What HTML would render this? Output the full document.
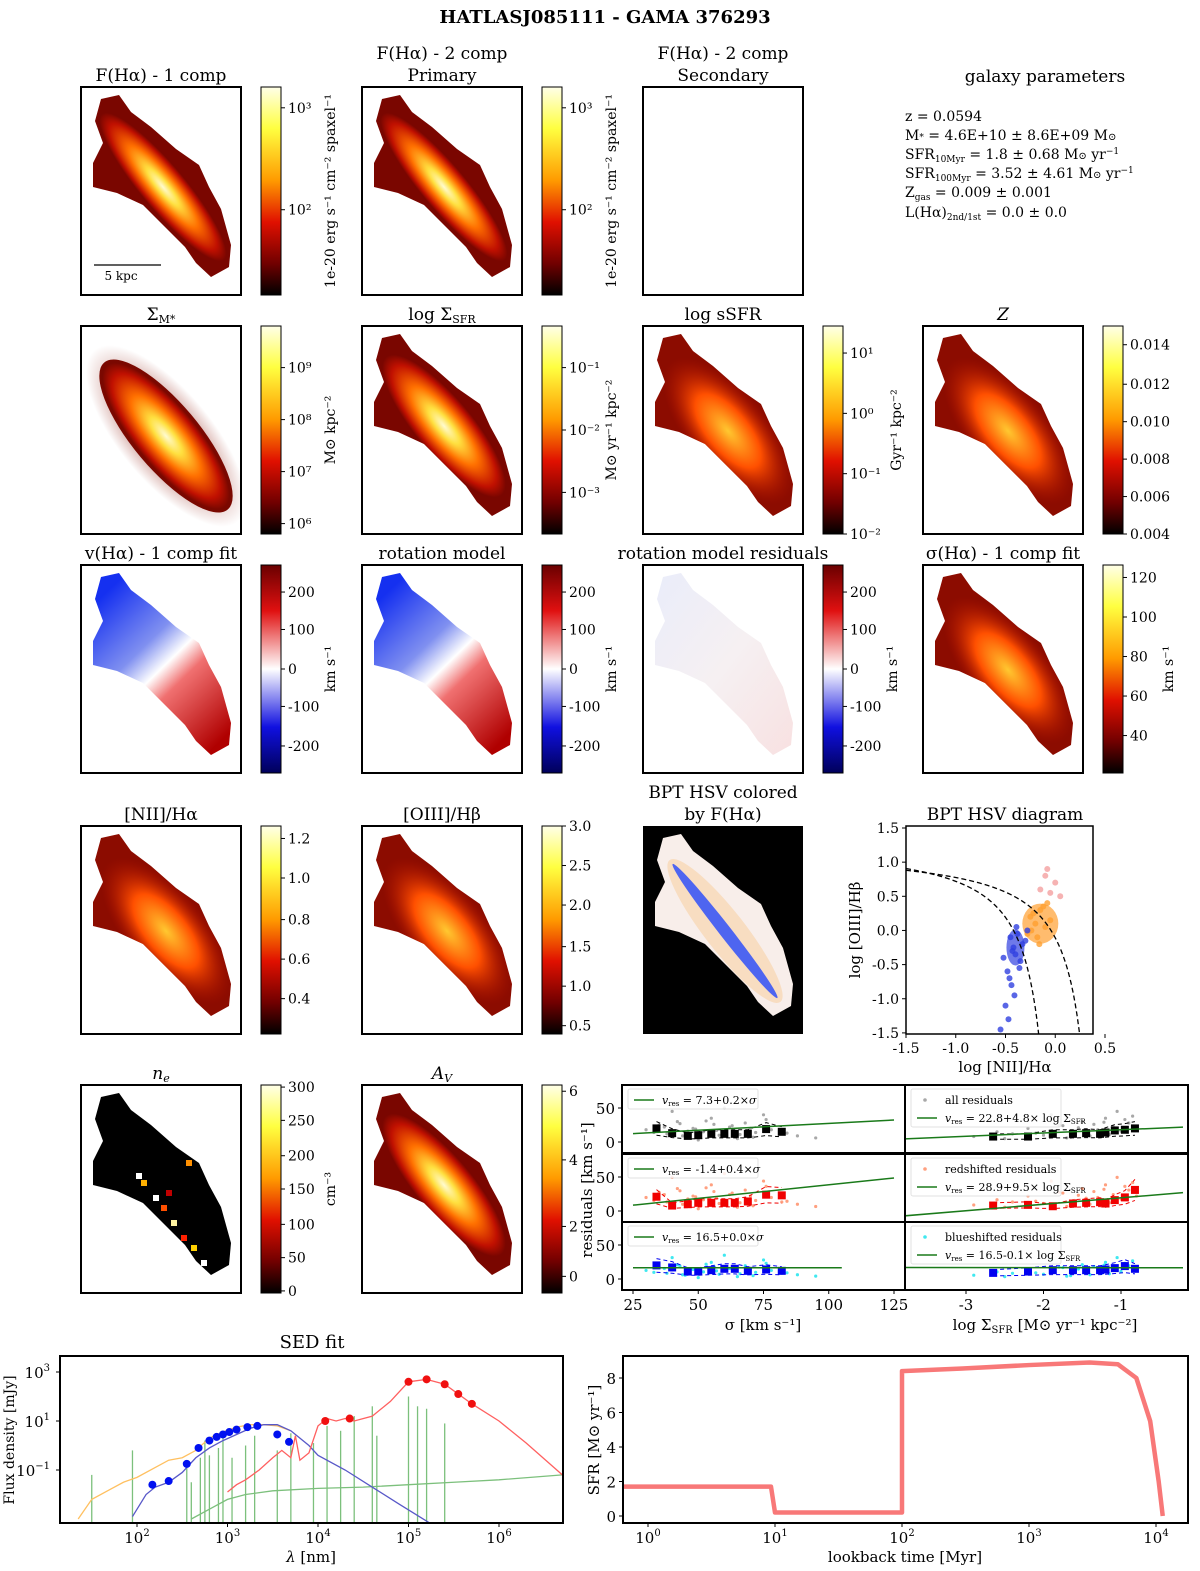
<!DOCTYPE html>
<html><head><meta charset="utf-8">
<style>
html,body{margin:0;padding:0;background:#fff;}
svg{display:block;}
.ser{font-family:"DejaVu Serif","Liberation Serif",serif;}
.san{font-family:"DejaVu Serif","Liberation Serif",serif;}
</style></head>
<body>
<svg id="fig" width="1200" height="1571" viewBox="0 0 1200 1571" xmlns="http://www.w3.org/2000/svg">
<defs>
<linearGradient id="hotcb" x1="0" y1="0" x2="0" y2="1">
<stop offset="0" stop-color="#ffffe8"/><stop offset="0.2" stop-color="#ffff40"/><stop offset="0.45" stop-color="#ff9a00"/><stop offset="0.65" stop-color="#e01000"/><stop offset="0.85" stop-color="#700000"/><stop offset="1" stop-color="#000"/></linearGradient>
<linearGradient id="bwrcb" x1="0" y1="0" x2="0" y2="1">
<stop offset="0" stop-color="#6a0000"/><stop offset="0.22" stop-color="#e01010"/><stop offset="0.5" stop-color="#ffffff"/><stop offset="0.78" stop-color="#1010e0"/><stop offset="1" stop-color="#00005a"/></linearGradient>
<radialGradient id="hotgal" cx="0.5" cy="0.5" r="0.5">
<stop offset="0" stop-color="#fffbd0"/><stop offset="0.25" stop-color="#ffe040"/><stop offset="0.55" stop-color="#ff7000"/><stop offset="0.85" stop-color="#c01000"/><stop offset="1" stop-color="#c01000" stop-opacity="0"/></radialGradient>
<radialGradient id="medgal" cx="0.5" cy="0.5" r="0.5">
<stop offset="0" stop-color="#ffc830"/><stop offset="0.5" stop-color="#ff5000"/><stop offset="1" stop-color="#b01000" stop-opacity="0"/></radialGradient>
<radialGradient id="halo" cx="0.5" cy="0.5" r="0.5">
<stop offset="0.6" stop-color="#8a1000" stop-opacity="0.7"/><stop offset="1" stop-color="#8a1000" stop-opacity="0"/></radialGradient>
<linearGradient id="velgal" x1="0.2" y1="0.1" x2="0.8" y2="0.9">
<stop offset="0" stop-color="#1530f0"/><stop offset="0.35" stop-color="#8090f0"/><stop offset="0.5" stop-color="#ffffff"/><stop offset="0.62" stop-color="#f07070"/><stop offset="1" stop-color="#b00000"/></linearGradient>
<linearGradient id="resgal" x1="0" y1="0" x2="1" y2="1">
<stop offset="0" stop-color="#e8ecfb"/><stop offset="0.5" stop-color="#f6f0f2"/><stop offset="1" stop-color="#f8dede"/></linearGradient>
</defs>
<text class="ser" x="605" y="23" text-anchor="middle" font-size="18" font-weight="bold">HATLASJ085111 - GAMA 376293</text>
<g id="panels"></g>
<g id="params" class="ser" font-size="14">
<text x="1045" y="82" text-anchor="middle" font-size="17">galaxy parameters</text>
<text x="905" y="121">z = 0.0594</text>
<text x="905" y="140">M<tspan font-size="9">*</tspan> = 4.6E+10 ± 8.6E+09 M<tspan font-size="10">⊙</tspan></text>
<text x="905" y="159">SFR<tspan font-size="9" dy="3">10Myr</tspan><tspan dy="-3"> = 1.8 ± 0.68 M</tspan><tspan font-size="10">⊙</tspan> yr<tspan font-size="9" dy="-5">−1</tspan></text>
<text x="905" y="178">SFR<tspan font-size="9" dy="3">100Myr</tspan><tspan dy="-3"> = 3.52 ± 4.61 M</tspan><tspan font-size="10">⊙</tspan> yr<tspan font-size="9" dy="-5">−1</tspan></text>
<text x="905" y="197">Z<tspan font-size="9" dy="3">gas</tspan><tspan dy="-3"> = 0.009 ± 0.001</tspan></text>
<text x="905" y="217">L(Hα)<tspan font-size="9" dy="3">2nd/1st</tspan><tspan dy="-3"> = 0.0 ± 0.0</tspan></text>
</g>
<g id="bpt"></g>
<g id="resid"></g>
<g id="sed"></g>
<g id="sfh"></g>
</svg>
<script>
const NS="http://www.w3.org/2000/svg";
function mk(tag,attrs,parent,text){const e=document.createElementNS(NS,tag);for(const k in attrs)e.setAttribute(k,attrs[k]);if(text!==undefined)e.textContent=text;parent.appendChild(e);return e;}

// ---------- data arrays ----------
const panelTitles=["F(Hα) - 1 comp","F(Hα) - 2 comp|Primary","F(Hα) - 2 comp|Secondary","","Σ_M*","log Σ_SFR","log sSFR","Z","v(Hα) - 1 comp fit","rotation model","rotation model residuals","σ(Hα) - 1 comp fit","[NII]/Hα","[OIII]/Hβ","BPT HSV colored|by F(Hα)","","n_e","A_V","",""];
const cbLabels=[["10³","10²"],["10³","10²"],[],[],["10⁹","10⁸","10⁷","10⁶"],["10⁻¹","10⁻²","10⁻³"],["10¹","10⁰","10⁻¹","10⁻²"],["0.014","0.012","0.010","0.008","0.006","0.004"],["200","100","0","-100","-200"],["200","100","0","-100","-200"],["200","100","0","-100","-200"],["120","100","80","60","40"],["1.2","1.0","0.8","0.6","0.4"],["3.0","2.5","2.0","1.5","1.0","0.5"],[],[],["300","250","200","150","100","50","0"],["6","4","2","0"],[],[]];
const cbFrac=[[0.1,0.59],[0.1,0.59],[],[],[0.2,0.45,0.7,0.95],[0.2,0.5,0.8],[0.13,0.42,0.71,1.0],[0.09,0.28,0.46,0.64,0.82,1.0],[0.13,0.31,0.5,0.68,0.87],[0.13,0.31,0.5,0.68,0.87],[0.13,0.31,0.5,0.68,0.87],[0.06,0.25,0.44,0.63,0.82],[0.06,0.25,0.45,0.64,0.83],[0,0.19,0.38,0.58,0.77,0.96],[],[],[0.01,0.17,0.34,0.5,0.67,0.83,0.99],[0.03,0.36,0.68,0.92],[],[]];
const cbUnits=["1e-20 erg s⁻¹ cm⁻² spaxel⁻¹","1e-20 erg s⁻¹ cm⁻² spaxel⁻¹","","","M⊙ kpc⁻²","M⊙ yr⁻¹ kpc⁻²","Gyr⁻¹ kpc⁻²","","km s⁻¹","km s⁻¹","km s⁻¹","km s⁻¹","","","","","cm⁻³","","",""];
const panelKind=["hot","hot","empty","none","mass","hot2","med","med","vel","velsmooth","resid","med","med","med","bpthsv","none","ne","hot2","none","none"];
const colX=[81,362,643,923], rowY=[87,326,565,826,1085], PW=160, PH=208;
const galPts=[[20,12],[38,8],[50,25],[70,40],[95,62],[118,78],[128,100],[140,122],[150,158],[148,180],[130,190],[115,176],[104,160],[86,142],[62,118],[36,106],[12,100],[12,76],[22,56],[14,34]];

const P=document.getElementById('panels');
function galPath(ox,oy,s){return galPts.map((p,i)=>(i?'L':'M')+(ox+p[0]*s[0])+' '+(oy+p[1]*s[1])).join(' ')+'Z';}
for(let i=0;i<20;i++){
  const r=Math.floor(i/4),c=i%4,k=panelKind[i];
  if(k==="none")continue;
  const x=colX[c],y=rowY[r];
  const g=mk('g',{},P);
  
  
  const t=panelTitles[i];
  if(t){
    const lines=t.split('|');
    lines.forEach((ln,j)=>{
      const ty=y-6-(lines.length-1-j)*22;
      let txt=ln;
      const te=mk('text',{class:'ser',x:x+PW/2,y:ty,'text-anchor':'middle','font-size':17},g);
      
      
      if(txt.indexOf('_')>=0){const [a,b]=txt.split('_');mk('tspan',{},te,a);mk('tspan',{'font-size':11,dy:3,'font-style':(b==='e'||b==='V')?'italic':'normal'},te,b);
        if(a==='n'||a==='A'){te.firstChild.setAttribute('font-style','italic');}}
      else if(txt==='Z'){mk('tspan',{'font-style':'italic'},te,'Z');}
      else te.textContent=txt;
    });
  }
  const gid='c'+i;
  mk('clipPath',{id:gid},g);
  const cp=g.lastChild;
  mk('path',{d:galPath(x,y,[1,1])},cp);
  if(k==="bpthsv"){ mk('rect',{x:x,y:y,width:PW,height:PH,fill:'#000'},g); }
  const body=mk('g',{'clip-path':'url(#'+gid+')'},g);
  if(k==="hot"||k==="hot2"){
    mk('rect',{x:x,y:y,width:PW,height:PH,fill:'#7a0600'},body);
    mk('ellipse',{cx:x+82,cy:y+100,rx:k==="hot"?95:90,ry:k==="hot"?22:28,fill:'url(#hotgal)',transform:`rotate(50 ${x+82} ${y+100})`},body);
  } else if(k==="med"){
    mk('rect',{x:x,y:y,width:PW,height:PH,fill:'#8c0c00'},body);
    mk('ellipse',{cx:x+85,cy:y+105,rx:90,ry:40,fill:'url(#medgal)',transform:`rotate(50 ${x+85} ${y+105})`},body);
  } else if(k==="vel"||k==="velsmooth"){
    mk('rect',{x:x,y:y,width:PW,height:PH,fill:'url(#velgal)'},body);
  } else if(k==="resid"){
    mk('rect',{x:x,y:y,width:PW,height:PH,fill:'url(#resgal)'},body);
  } else if(k==="bpthsv"){
    mk('rect',{x:x,y:y,width:PW,height:PH,fill:'#f8eeea'},body);
    mk('ellipse',{cx:x+82,cy:y+105,rx:90,ry:20,fill:'#f8c890',opacity:0.45,transform:`rotate(52 ${x+82} ${y+105})`},body);
    mk('ellipse',{cx:x+82,cy:y+105,rx:85,ry:6,fill:'#3050f8',opacity:0.85,transform:`rotate(52 ${x+82} ${y+105})`},body);
  } else if(k==="ne"){
    mk('rect',{x:x,y:y,width:PW,height:PH,fill:'#000'},body);
    const sp=[[60,95,'#ffb000'],[72,110,'#fff'],[80,120,'#ff5000'],[90,135,'#fff2a0'],[100,150,'#ff2000'],[55,88,'#fff'],[110,160,'#ffd000'],[95,170,'#ff3000'],[105,75,'#ff9000'],[65,130,'#ffe060'],[120,175,'#fff'],[85,105,'#c00000']];
    sp.forEach(p=>mk('rect',{x:x+p[0],y:y+p[1],width:6,height:6,fill:p[2]},body));
  }
  if(k==="mass"){
    const mc=mk('clipPath',{id:'massclip'},g); mk('rect',{x:x,y:y,width:PW,height:PH},mc);
    const mg=mk('g',{'clip-path':'url(#massclip)'},g);
    mk('ellipse',{cx:x+85,cy:y+110,rx:112,ry:46,fill:'url(#halo)',opacity:0.5,transform:`rotate(50 ${x+85} ${y+110})`},mg);
    mk('ellipse',{cx:x+85,cy:y+110,rx:96,ry:33,fill:'#7a0800',transform:`rotate(50 ${x+85} ${y+110})`},mg);
    mk('ellipse',{cx:x+85,cy:y+110,rx:92,ry:30,fill:'url(#hotgal)',transform:`rotate(50 ${x+85} ${y+110})`},mg);
  }
  if(k!=="bpthsv") mk('rect',{x:x,y:y,width:PW,height:PH,fill:'none',stroke:'#000','stroke-width':2},g);
  if(i===0){ mk('line',{x1:x+13,y1:y+178,x2:x+80,y2:y+178,stroke:'#000','stroke-width':1.2},g); mk('text',{class:'ser',x:x+40,y:y+193,'text-anchor':'middle','font-size':12},g,'5 kpc'); }
  const labs=cbLabels[i];
  if(labs.length){
    const cx=x+180, cb=mk('g',{},g);
    
    
    mk('rect',{x:cx,y:y,width:20,height:PH,fill:(k==="vel"||k==="velsmooth"||k==="resid")?'url(#bwrcb)':'url(#hotcb)',stroke:'#000','stroke-width':1},cb);
    labs.forEach((l,j)=>{const ty=y+cbFrac[i][j]*PH; mk('line',{x1:cx+20,y1:ty,x2:cx+24,y2:ty,stroke:'#000'},cb); mk('text',{class:'san',x:cx+27,y:ty+5,'font-size':14},cb,l);});
    if(cbUnits[i]){const ux=cx+(i===6?78:(i===11?70:74)); mk('text',{class:'ser',x:ux,y:y+PH/2,'text-anchor':'middle','font-size':14,transform:`rotate(-90 ${ux} ${y+PH/2})`},cb,cbUnits[i]);}
  }
}

// ---------- BPT scatter ----------
const bptNII=[-0.45,-0.42,-0.40,-0.38,-0.35,-0.33,-0.30,-0.28,-0.48,-0.44,-0.36,-0.50,-0.47,-0.41,-0.55,-0.46,-0.39,-0.52,-0.43];
const bptOIII=[-0.10,-0.25,-0.35,-0.05,-0.45,-0.20,-0.15,0.00,-0.60,-0.80,-0.55,-1.10,-1.30,-0.95,-1.45,-0.70,0.05,-0.40,-0.30];
const bptOrNII=[-0.25,-0.20,-0.15,-0.10,-0.18,-0.22,-0.12,-0.28,-0.05,-0.16,-0.24,-0.08];
const bptOrOIII=[0.20,0.10,0.30,0.05,-0.10,0.25,0.35,-0.05,0.15,-0.20,0.00,0.40];
const bptPkNII=[-0.15,-0.05,0.00,-0.10,0.05,-0.08];
const bptPkOIII=[0.60,0.55,0.70,0.80,0.50,0.90];
const bx=v=>906+(v+1.5)*99.5, by=v=>828+(1.5-v)*68.3;
(function(){
 const G=document.getElementById('bpt');
 
 
 mk('text',{class:'ser',x:1005,y:820,'text-anchor':'middle','font-size':17},G,'BPT HSV diagram');
 const cl=mk('clipPath',{id:'bptclip'},G); mk('rect',{x:906,y:826,width:187,height:208},cl);
 const body=mk('g',{'clip-path':'url(#bptclip)'},G);
 bptPkNII.forEach((v,i)=>{const c=mk('circle',{cx:bx(v),cy:by(bptPkOIII[i]),r:3,fill:'#f08080',opacity:0.6},body);});
 bptOrNII.forEach((v,i)=>{const c=mk('circle',{cx:bx(v),cy:by(bptOrOIII[i]),r:3,fill:'#ffa030',opacity:0.8},body);});
 mk('ellipse',{cx:bx(-0.15),cy:by(0.1),rx:18,ry:20,fill:'#ffa030',opacity:0.7},body);
 bptNII.forEach((v,i)=>{const c=mk('circle',{cx:bx(v),cy:by(bptOIII[i]),r:3,fill:'#3040e0',opacity:0.8},body);});
 mk('ellipse',{cx:bx(-0.4),cy:by(-0.25),rx:9,ry:18,fill:'#3040e0',opacity:0.7},body);
 let d1='',d2='';
 for(let v=-1.5;v<=0.0;v+=0.02){const yk=0.61/(v-0.05)+1.3; d1+=(d1?'L':'M')+bx(v)+' '+by(yk);}
 for(let v=-1.5;v<=0.36;v+=0.02){const yk=0.61/(v-0.47)+1.19; d2+=(d2?'L':'M')+bx(v)+' '+by(yk);}
 mk('path',{d:d1,fill:'none',stroke:'#000','stroke-dasharray':'5,3','stroke-width':1.3},body);
 mk('path',{d:d2,fill:'none',stroke:'#000','stroke-dasharray':'5,3','stroke-width':1.3},body);
 mk('rect',{x:906,y:826,width:187,height:208,fill:'none',stroke:'#000','stroke-width':1.5},G);
 const xt=[-1.5,-1.0,-0.5,0.0,0.5], yt=[1.5,1.0,0.5,0.0,-0.5,-1.0,-1.5];
 xt.forEach(v=>{mk('line',{x1:bx(v),y1:1034,x2:bx(v),y2:1038,stroke:'#000'},G);mk('text',{class:'san',x:bx(v),y:1053,'text-anchor':'middle','font-size':14},G,v.toFixed(1));});
 yt.forEach(v=>{mk('line',{x1:902,y1:by(v),x2:906,y2:by(v),stroke:'#000'},G);mk('text',{class:'san',x:899,y:by(v)+5,'text-anchor':'end','font-size':14},G,v.toFixed(1));});
 mk('text',{class:'ser',x:1005,y:1072,'text-anchor':'middle','font-size':15},G,'log [NII]/Hα');
 mk('text',{class:'ser',x:860,y:930,'text-anchor':'middle','font-size':15,transform:'rotate(-90 860 930)'},G,'log [OIII]/Hβ');
})();

// ---------- residual panels ----------
const sigScat=[30,35,38,42,45,48,52,55,58,62,65,68,72,75,78,82,88,95,40,50,60,70,46,56,66,33,37,44,53,57,63,71,76,84,43,49];
const sigRes=[18,25,12,30,8,20,15,35,10,22,5,28,14,40,18,12,9,6,45,3,50,20,16,26,11,14,22,9,31,17,24,7,33,13,27,19];
const lsScat=[-2.9,-2.6,-2.4,-2.2,-2.0,-1.8,-1.6,-1.5,-1.4,-1.3,-1.2,-1.1,-1.0,-0.9,-1.7,-1.9,-1.25,-1.05,-0.8,-2.5,-1.35,-1.15,-0.95,-1.45,-1.55,-2.1,-0.85,-1.65,-1.75,-1.22];
const lsRes=[8,15,12,20,10,25,14,30,9,18,35,22,16,28,6,40,12,45,20,5,26,11,33,17,21,13,38,7,24,29];
const sigBin=[34,40,46,50,55,60,64,69,76,82];
const lsBin=[-2.65,-2.2,-1.88,-1.62,-1.45,-1.27,-1.2,-1.08,-0.95,-0.82];
const binAll=[20,13,9,10,12,12,12,12,19,15];
const binRed=[21,8,10,12,12,12,12,14,24,23];
const binBlue=[20,17,11,11,13,15,15,12,14,12];
const binAllR=[8,8,12,12,13,12,14,17,18,20];
const binRedR=[8,9,7,11,12,13,11,16,20,31];
const binBlueR=[9,11,13,13,13,13,14,16,19,15];
const fitSigA=[7.3,-1.4,16.5], fitSigB=[0.2,0.4,0.0];
const fitLsA=[22.8,28.9,16.5], fitLsB=[4.8,9.5,-0.1];
const rowTop=[1085,1154,1222], RH=68;
const sx=v=>633+(v-25)*2.61, lx=v=>966+(v+3)*77.5;
const ry=(r,v)=>rowTop[r]+57-v*0.68;
(function(){
 const G=document.getElementById('resid');
 
 
 const scCol=['#a8a8a8','#ffa080','#40e8f0'], binCol=['#000','#f00000','#0000f0'];
 const binsL=[binAll,binRed,binBlue], binsR=[binAllR,binRedR,binBlueR];
 const labels=['all residuals','redshifted residuals','blueshifted residuals'];
 for(let r=0;r<3;r++){
  for(let side=0;side<2;side++){
   const x0=side?905:622, w=283;
   const cid='rc'+r+side; const cl=mk('clipPath',{id:cid},G); mk('rect',{x:x0,y:rowTop[r],width:w,height:RH},cl);
   const body=mk('g',{'clip-path':'url(#'+cid+')'},G);
   const X=side?lx:sx, xs=side?lsScat:sigScat, ys=side?lsRes:sigRes, bins=side?lsBin:sigBin, bv=side?binsR[r]:binsL[r];
   xs.forEach((v,j)=>{const c=mk('circle',{cx:X(v),cy:ry(r,ys[j]*(r===1?1.1:(r===2?0.7:1))),r:1.6,fill:scCol[r]},body);});
   let dlo='',dhi='';
   bins.forEach((v,j)=>{dlo+=(j?'L':'M')+X(v)+' '+ry(r,bv[j]*0.5);dhi+=(j?'L':'M')+X(v)+' '+ry(r,bv[j]*1.5);});
   mk('path',{d:dlo,fill:'none',stroke:binCol[r],'stroke-dasharray':'4,3'},body);
   mk('path',{d:dhi,fill:'none',stroke:binCol[r],'stroke-dasharray':'4,3'},body);
   bins.forEach((v,j)=>{const s=mk('rect',{x:X(v)-4,y:ry(r,bv[j])-4,width:8,height:8,fill:binCol[r]},body);});
   const a=side?fitLsA[r]:fitSigA[r], b=side?fitLsB[r]:fitSigB[r];
   const xa=side?-3.8:25, xb=side?-0.2:(r===2?105:125);
   mk('line',{x1:X(xa),y1:ry(r,a+b*xa),x2:X(xb),y2:ry(r,a+b*xb),stroke:'#1a7a1a','stroke-width':1.5},body);
   const lg=mk('g',{},G);
   
   
   const lw=side?150:130, lh=side?38:20;
   mk('rect',{x:x0+6,y:rowTop[r]+4,width:lw,height:lh,fill:'#fff',opacity:0.85,stroke:'#ddd',rx:2},lg);
   let ly=rowTop[r]+15;
   if(side){mk('circle',{cx:x0+20,cy:ly,r:1.8,fill:scCol[r]},lg);mk('text',{class:'ser',x:x0+40,y:ly+4,'font-size':11},lg,labels[r]);ly+=18;}
   mk('line',{x1:x0+12,y1:ly,x2:x0+32,y2:ly,stroke:'#1a7a1a','stroke-width':1.5},lg);
   const te=mk('text',{class:'ser',x:x0+40,y:ly+4,'font-size':11},lg);
   mk('tspan',{'font-style':'italic'},te,'v');mk('tspan',{'font-size':7,dy:2},te,'res');
   mk('tspan',{dy:-2},te,' = '+a.toFixed(1)+(b>=0?'+':'')+b.toFixed(1)+'×'+(side?' log Σ':''));
   if(side)mk('tspan',{'font-size':7,dy:2},te,'SFR'); else mk('tspan',{'font-style':'italic'},te,'σ');
   mk('rect',{x:x0,y:rowTop[r],width:w,height:RH,fill:'none',stroke:'#000','stroke-width':2},G);
  }
  [0,50].forEach(v=>{mk('line',{x1:618,y1:ry(r,v),x2:622,y2:ry(r,v),stroke:'#000'},G);mk('text',{class:'san',x:615,y:ry(r,v)+6,'text-anchor':'end','font-size':15},G,String(v));});
 }
 const sxt=[25,50,75,100,125], lxt=[-3,-2,-1];
 sxt.forEach(v=>{mk('line',{x1:sx(v),y1:1290,x2:sx(v),y2:1294,stroke:'#000'},G);mk('text',{class:'san',x:sx(v),y:1310,'text-anchor':'middle','font-size':15},G,String(v));});
 lxt.forEach(v=>{mk('line',{x1:lx(v),y1:1290,x2:lx(v),y2:1294,stroke:'#000'},G);mk('text',{class:'san',x:lx(v),y:1310,'text-anchor':'middle','font-size':15},G,String(v));});
 mk('text',{class:'ser',x:763,y:1330,'text-anchor':'middle','font-size':15},G,'σ [km s⁻¹]');
 const t2=mk('text',{class:'ser',x:1045,y:1330,'text-anchor':'middle','font-size':15},G);
 mk('tspan',{},t2,'log Σ');mk('tspan',{'font-size':10,dy:3},t2,'SFR');mk('tspan',{dy:-3},t2,' [M⊙ yr⁻¹ kpc⁻²]');
 mk('text',{class:'ser',x:592,y:1190,'text-anchor':'middle','font-size':15,transform:'rotate(-90 592 1190)'},G,'residuals [km s⁻¹]');
})();

// ---------- SED ----------
const sedStarLam=[1.35,1.5,1.7,1.85,2.0,2.2,2.35,2.5,2.65,2.8,2.95,3.1,3.25,3.4,3.55,3.7];
const sedStarF=[-3.0,-2.2,-1.8,-1.5,-1.3,-0.9,-0.6,-0.5,-0.2,0.3,0.55,0.75,0.85,0.85,0.8,0.6];
const sedAttLam=[1.95,2.1,2.2,2.35,2.5,2.65,2.8,2.95,3.1,3.25,3.4,3.55,3.7,3.9,4.0,4.3,4.6,4.9,5.25];
const sedAttF=[-2.9,-2.0,-1.7,-1.5,-1.1,-0.5,-0.1,0.2,0.45,0.7,0.85,0.85,0.6,0.0,-0.4,-1.0,-1.7,-2.4,-3.2];
const sedTotLam=[3.0,3.1,3.2,3.35,3.5,3.6,3.7,3.75,3.8,3.9,4.0,4.1,4.2,4.3,4.4,4.6,4.8,5.0,5.2,5.4,5.55,5.7,6.0,6.3,6.7];
const sedTotF=[-1.9,-1.6,-1.4,-1.0,-0.5,-0.2,-0.5,0.4,-0.6,-0.3,0.8,1.1,1.0,1.1,1.0,1.2,1.8,2.6,2.7,2.5,2.1,1.7,1.0,0.1,-1.2];
const sedNebLam=[2.6,2.8,3.0,3.2,3.5,4.0,4.5,5.0,5.5,6.0,6.7];
const sedNebF=[-3.0,-2.6,-2.2,-2.0,-1.85,-1.75,-1.7,-1.6,-1.5,-1.4,-1.2];
const sedLineLam=[1.5,1.95,2.55,2.6,2.7,2.75,2.8,2.9,2.95,3.05,3.2,3.3,3.55,3.7,3.95,4.1,4.25,4.4,4.6,4.65,5.0,5.1,5.2,5.4];
const sedLineF=[-1.2,-0.2,-0.6,-1.5,-0.5,0.2,-0.4,-0.1,0.3,-0.5,0.0,0.4,-0.2,0.5,0.1,0.8,0.6,1.2,1.6,0.4,2.0,1.6,1.5,0.9];
const photUVLam=[2.17,2.35,2.55,2.68,2.8,2.88,2.95,3.02,3.1,3.22,3.33,3.55,3.68];
const photUVF=[-1.6,-1.45,-0.75,-0.1,0.2,0.35,0.45,0.55,0.65,0.75,0.8,0.45,0.15];
const photIRLam=[4.08,4.35,5.0,5.2,5.4,5.55,5.7];
const photIRF=[1.0,1.1,2.6,2.7,2.5,2.1,1.7];
const wx=l=>137+(l-2)*90.5, fy=l=>1445.5-l*24.5;
(function(){
 const G=document.getElementById('sed');
 
 
 mk('text',{class:'ser',x:312,y:1348,'text-anchor':'middle','font-size':18},G,'SED fit');
 const cl=mk('clipPath',{id:'sedclip'},G); mk('rect',{x:60,y:1356,width:503,height:167},cl);
 const B=mk('g',{'clip-path':'url(#sedclip)'},G);
 const line=(L,F,col,w,name)=>{const p=mk('path',{d:L.map((l,i)=>(i?'L':'M')+wx(l)+' '+fy(F[i])).join(''),fill:'none',stroke:col,'stroke-width':w},B);};
 sedLineLam.forEach((l,i)=>mk('line',{x1:wx(l),y1:fy(-3.5),x2:wx(l),y2:fy(sedLineF[i]),stroke:'#7cc07c','stroke-width':1.3},B));
 line(sedNebLam,sedNebF,'#7cc07c',1.3,'nebular-continuum');
 line(sedStarLam,sedStarF,'#ffc060',1.3,'unattenuated-stellar');
 line(sedAttLam,sedAttF,'#5858c8',1.3,'attenuated-stellar');
 line(sedTotLam,sedTotF,'#ff6060',1.3,'total-model');
 photUVLam.forEach((l,i)=>{const c=mk('circle',{cx:wx(l),cy:fy(photUVF[i]),r:4,fill:'#0010f0'},B);});
 photIRLam.forEach((l,i)=>{const c=mk('circle',{cx:wx(l),cy:fy(photIRF[i]),r:4,fill:'#f01010'},B);});
 mk('rect',{x:60,y:1356,width:503,height:167,fill:'none',stroke:'#000','stroke-width':2},G);
 [2,3,4,5,6].forEach(l=>{mk('line',{x1:wx(l),y1:1523,x2:wx(l),y2:1527,stroke:'#000'},G);const t=mk('text',{class:'ser',x:wx(l),y:1543,'text-anchor':'middle','font-size':15},G,'10');mk('tspan',{'font-size':10,dy:-7},t,String(l));});
 [3,1,-1].forEach(l=>{mk('line',{x1:56,y1:fy(l),x2:60,y2:fy(l),stroke:'#000'},G);const t=mk('text',{class:'ser',x:50,y:fy(l)+6,'text-anchor':'end','font-size':15},G,'10');mk('tspan',{'font-size':10,dy:-7},t,l<0?'−1':String(l));});
 const t=mk('text',{class:'ser',x:311,y:1562,'text-anchor':'middle','font-size':15},G);mk('tspan',{'font-style':'italic'},t,'λ');mk('tspan',{},t,' [nm]');
 mk('text',{class:'ser',x:14,y:1440,'text-anchor':'middle','font-size':14,transform:'rotate(-90 14 1440)'},G,'Flux density [mJy]');
})();

// ---------- SFH ----------
const sfhT=[0.6,9.3,10,100,100,300,1000,3000,5000,7000,9000,10500,11300];
const sfhV=[1.7,1.7,0.2,0.2,8.4,8.55,8.75,8.9,8.8,8.0,5.5,2.0,0.0];
const tx=t=>648+Math.log10(t)*127, vy=v=>1516-v*17.25;
(function(){
 const G=document.getElementById('sfh');
 
 
 const cl=mk('clipPath',{id:'sfhclip'},G); mk('rect',{x:623,y:1356,width:565,height:167},cl);
 const B=mk('g',{'clip-path':'url(#sfhclip)'},G);
 const p=mk('path',{d:sfhT.map((t,i)=>(i?'L':'M')+tx(t)+' '+vy(sfhV[i])).join(''),fill:'none',stroke:'#f87878','stroke-width':4.5,'stroke-linejoin':'round'},B);
 
 
 mk('rect',{x:623,y:1356,width:565,height:167,fill:'none',stroke:'#000','stroke-width':2},G);
 [0,1,2,3,4].forEach(l=>{const x=tx(Math.pow(10,l));mk('line',{x1:x,y1:1523,x2:x,y2:1527,stroke:'#000'},G);const t=mk('text',{class:'ser',x:x,y:1543,'text-anchor':'middle','font-size':15},G,'10');mk('tspan',{'font-size':10,dy:-7},t,String(l));});
 [0,2,4,6,8].forEach(v=>{mk('line',{x1:619,y1:vy(v),x2:623,y2:vy(v),stroke:'#000'},G);mk('text',{class:'san',x:616,y:vy(v)+6,'text-anchor':'end','font-size':15},G,String(v));});
 mk('text',{class:'ser',x:905,y:1562,'text-anchor':'middle','font-size':15},G,'lookback time [Myr]');
 mk('text',{class:'ser',x:599,y:1440,'text-anchor':'middle','font-size':15,transform:'rotate(-90 599 1440)'},G,'SFR [M⊙ yr⁻¹]');
})();
</script>
</body></html>
